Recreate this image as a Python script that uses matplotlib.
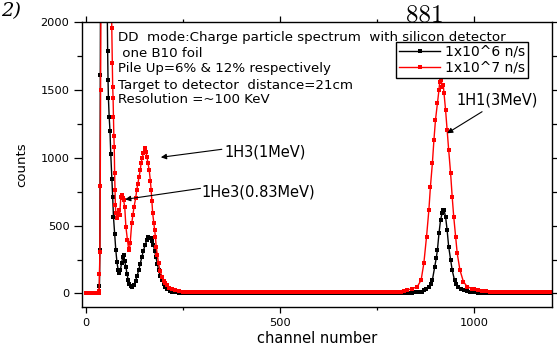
import matplotlib
matplotlib.use("Agg")
import matplotlib.pyplot as plt
from matplotlib.ticker import MultipleLocator

# -- 1x10^6 n/s spectrum (black) --
CH_LOW = [0, 5, 10, 15, 20, 25, 30, 33, 35, 36, 37, 38, 45, 52, 55, 56, 57, 58, 60, 62,
          64, 67, 69, 71, 74, 77, 80, 83, 86, 89, 92, 95, 97, 100, 103, 106, 109, 112,
          116, 120, 124, 128, 132, 136, 140, 144, 148, 153, 157, 161, 165, 168, 171,
          174, 177, 180, 184, 187, 191, 196, 200, 204, 210, 216, 222, 230, 240, 250]
CNT_LOW_6 = [0, 0, 0, 0, 0, 0, 0, 0, 56, 320, 1610, 2600, 3200, 2600, 2100, 1790, 1573,
             1440, 1300, 1200, 1030, 840, 710, 565, 440, 320, 230, 175, 147, 175, 225,
             270, 282, 240, 196, 140, 100, 70, 55, 50, 62, 95, 130, 172, 220, 270, 315,
             360, 395, 418, 412, 405, 385, 356, 315, 270, 220, 172, 130, 98, 70, 49, 32,
             20, 12, 8, 6, 5]
CH_MID = [260, 270, 280, 290, 300, 310, 320, 330, 340, 350, 360, 370, 380, 390, 400,
          410, 420, 430, 440, 450, 460, 470, 480, 490, 500, 510, 520, 530, 540, 550,
          560, 570, 580, 590, 600, 610, 620, 630, 640, 650, 660, 670, 680, 690, 700,
          710, 720, 730, 740, 750, 760, 770, 780, 790, 800]
CNT_MID_6 = [5, 4, 5, 4, 4, 5, 4, 3, 4, 4, 3, 4, 4, 3, 4, 3, 4, 3, 4, 3, 4, 3, 3, 4, 3,
             4, 3, 3, 4, 3, 4, 3, 3, 4, 3, 4, 3, 3, 4, 3, 4, 3, 4, 3, 4, 4, 3, 4, 4, 3,
             4, 4, 4, 5, 4]
CH_H1_6 = [810, 820, 830, 840, 850, 860, 866, 870, 876, 883, 888, 892, 898, 902, 905,
           909, 913, 917, 920, 922, 926, 930, 934, 939, 943, 949, 953, 958, 965, 973,
           980, 990, 1000]
CNT_H1_6 = [4, 5, 5, 6, 7, 9, 14, 24, 35, 49, 70, 98, 196, 260, 319, 442, 540, 590, 612,
            614, 565, 467, 344, 246, 172, 98, 70, 49, 35, 24, 15, 10, 7]
CH_HIGH = [1010, 1020, 1030, 1040, 1050, 1060, 1070, 1080, 1090, 1100, 1110, 1120, 1130,
           1140, 1150, 1160, 1170, 1180, 1190, 1200]
CNT_HIGH_6 = [6, 5, 5, 4, 5, 4, 4, 5, 4, 4, 5, 4, 4, 4, 5, 4, 4, 4, 5, 4]

# -- 1x10^7 n/s spectrum (red) --
CH_LOW_7 = [0, 5, 10, 15, 20, 25, 30, 33, 34, 35, 36, 37, 38, 39, 45, 55, 62, 66, 67, 68,
            69, 70, 71, 72, 73, 74, 75, 76, 77, 80, 82, 84, 87, 90, 93, 95, 97, 100, 103,
            107, 110, 112, 114, 118, 121, 124, 128, 131, 134, 137, 140, 142, 145, 148,
            151, 153, 155, 157, 160, 163, 166, 168, 170, 172, 175, 177, 179, 181, 184,
            187, 191, 196, 200, 204, 209, 215, 222, 230, 240, 250]
CNT_LOW_7 = [0, 0, 0, 0, 0, 0, 0, 0, 20, 142, 307, 791, 1500, 2500, 3500, 3500, 2800,
             2100, 1954, 1700, 1524, 1440, 1300, 1160, 1080, 885, 760, 650, 590, 553, 590,
             614, 577, 713, 725, 700, 688, 639, 491, 393, 330, 320, 370, 516, 580, 639,
             700, 762, 810, 860, 910, 958, 1000, 1032, 1050, 1069, 1040, 1007, 960, 909,
             830, 762, 680, 590, 520, 467, 417, 344, 280, 221, 165, 122, 95, 75, 61, 40,
             30, 24, 18, 14]
CNT_MID_7 = [13, 12, 12, 11, 12, 11, 10, 11, 10, 11, 10, 10, 11, 10, 9, 10, 10, 9, 10, 9,
             10, 9, 10, 9, 9, 10, 9, 10, 9, 9, 10, 9, 10, 9, 9, 10, 9, 10, 9, 10, 10, 9,
             10, 10, 9, 10, 10, 10, 11, 10, 11, 11, 12, 12, 13]
CH_H1_7 = [810, 820, 827, 840, 853, 863, 870, 877, 883, 887, 892, 896, 900, 905, 909, 911,
           913, 915, 917, 920, 922, 926, 930, 934, 939, 943, 947, 952, 956, 963, 972, 982,
           995, 1000]
CNT_H1_7 = [14, 20, 24, 35, 49, 98, 221, 418, 614, 786, 958, 1130, 1278, 1401, 1499,
            1561, 1580, 1573, 1524, 1536, 1475, 1352, 1204, 1057, 885, 713, 565, 418, 295,
            172, 86, 49, 35, 30]
CNT_HIGH_7 = [24, 18, 15, 13, 12, 12, 11, 12, 11, 11, 12, 11, 11, 12, 11, 11, 12, 11, 11,
              12]

HEADER = ["DD  mode:Charge particle spectrum  with silicon detector",
          " one B10 foil",
          "Pile Up=6% & 12% respectively",
          "Target to detector  distance=21cm",
          "Resolution =~100 KeV"]
HEADER_Y = [1883, 1765, 1655, 1535, 1426]
SERIES_LABELS = ["1x10^6 n/s", "1x10^7 n/s"]

ch6 = CH_LOW + CH_MID + CH_H1_6 + CH_HIGH
cnt6 = CNT_LOW_6 + CNT_MID_6 + CNT_H1_6 + CNT_HIGH_6
ch7 = CH_LOW_7 + CH_MID + CH_H1_7 + CH_HIGH
cnt7 = CNT_LOW_7 + CNT_MID_7 + CNT_H1_7 + CNT_HIGH_7

fig = plt.figure(figsize=(5.57, 3.49), dpi=100)
ax = fig.add_axes([82 / 557, 1 - 307 / 349, 470 / 557, 285 / 349])

ax.plot(ch6, cnt6, color="black", lw=1.0, marker="s", ms=2.6, mew=0,
        label=SERIES_LABELS[0])
ax.plot(ch7, cnt7, color="red", lw=1.0, marker="s", ms=2.4, mew=0,
        label=SERIES_LABELS[1])

ax.set_xlim(-10, 1200)
ax.set_ylim(-100, 2000)
ax.xaxis.set_major_locator(MultipleLocator(500))
ax.xaxis.set_minor_locator(MultipleLocator(250))
ax.yaxis.set_major_locator(MultipleLocator(500))
ax.yaxis.set_minor_locator(MultipleLocator(250))
ax.tick_params(axis="both", which="both", direction="out", top=True, right=True,
               labelsize=8.2, width=0.9)
ax.tick_params(axis="x", which="major", length=4, pad=4)
ax.tick_params(axis="x", which="minor", length=2.5)
ax.tick_params(axis="y", which="major", length=6, pad=3)
ax.tick_params(axis="y", which="minor", length=3.5)
for sp in ax.spines.values():
    sp.set_linewidth(1.0)

ax.set_xlabel("channel number", fontsize=10.5, labelpad=2)
ax.set_ylabel("counts", fontsize=9.5, labelpad=9)

for txt, yy in zip(HEADER, HEADER_Y):
    ax.text(82, yy, txt, fontsize=9.6, ha="left", va="center")

arrow = dict(arrowstyle="-|>", color="black", lw=0.8, mutation_scale=8,
             shrinkA=0, shrinkB=0)
ax.annotate("", xy=(930, 1180), xytext=(1020, 1339), arrowprops=arrow)
ax.text(955, 1426, "1H1(3MeV)", fontsize=10.5, ha="left", va="center")
ax.annotate("", xy=(193, 1003), xytext=(350, 1062), arrowprops=arrow)
ax.text(356, 1044, "1H3(1MeV)", fontsize=10.5, ha="left", va="center")
ax.annotate("", xy=(101, 693), xytext=(295, 774), arrowprops=arrow)
ax.text(298, 749, "1He3(0.83MeV)", fontsize=10.5, ha="left", va="center")

leg = ax.legend(loc="upper left", bbox_to_anchor=(396 / 557, 1 - 42 / 349),
                bbox_transform=fig.transFigure, fontsize=10, frameon=True,
                fancybox=False, framealpha=1, edgecolor="black", handlelength=3.0,
                handletextpad=0.3, borderpad=0.2, labelspacing=0.15,
                borderaxespad=0, markerscale=1.0)
leg.get_frame().set_linewidth(1.0)

# page decorations from the scanned paper
fig.text(21 / 557, 1 - 11 / 349, "2)", fontsize=14, family="DejaVu Serif",
         style="italic", ha="right", va="center")
fig.text(425 / 557, 1 - 21 / 349, "881", fontsize=18, family="cmr10",
         ha="center", va="baseline")

plt.savefig("out.png", dpi=100)
plt.close()
